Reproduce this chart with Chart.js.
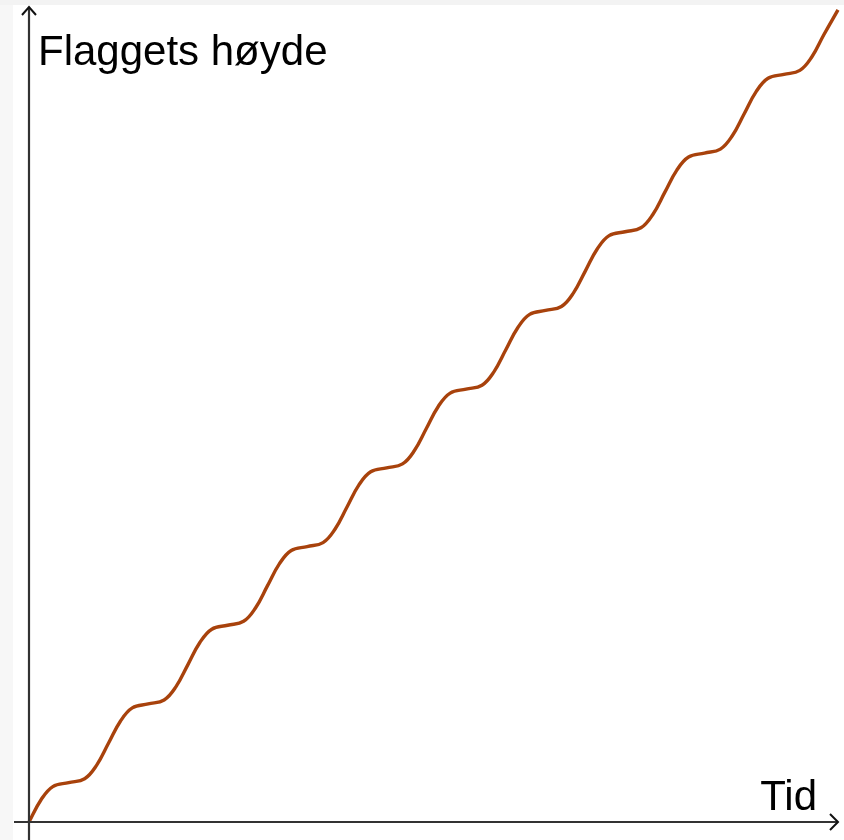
<!DOCTYPE html>
<html>
<head>
<meta charset="utf-8">
<script src="https://cdn.jsdelivr.net/npm/chart.js@4"></script>
<style>
html,body{margin:0;padding:0;background:#fff;}
canvas{display:block;}
</style>
</head>
<body>
<canvas id="c" width="844" height="840"></canvas>
<script>
const yLabel = "Flaggets høyde";
const xLabel = "Tid";
const time = [0,0.15,0.3,0.5,0.7,0.85,
  1,1.15,1.3,1.5,1.7,1.85,
  2,2.15,2.3,2.5,2.7,2.85,
  3,3.15,3.3,3.5,3.7,3.85,
  4,4.15,4.3,4.5,4.7,4.85,
  5,5.15,5.3,5.5,5.7,5.85,
  6,6.15,6.3,6.5,6.7,6.85,
  7,7.15,7.3,7.5,7.7,7.85,
  8,8.15,8.3,8.5,8.7,8.85,
  9,9.15,9.3,9.5,9.7,9.85,
  10,10.18];
const height = [0,0.28,0.45,0.5,0.55,0.72,
  1,1.28,1.45,1.5,1.55,1.72,
  2,2.28,2.45,2.5,2.55,2.72,
  3,3.28,3.45,3.5,3.55,3.72,
  4,4.28,4.45,4.5,4.55,4.72,
  5,5.28,5.45,5.5,5.55,5.72,
  6,6.28,6.45,6.5,6.55,6.72,
  7,7.28,7.45,7.5,7.55,7.72,
  8,8.28,8.45,8.5,8.55,8.72,
  9,9.28,9.45,9.5,9.55,9.72,
  10,10.32];

const axisPlugin = {
  id: 'axes',
  beforeDraw(chart) {
    const ctx = chart.ctx;
    ctx.save();
    ctx.fillStyle = '#fff';
    ctx.fillRect(0, 0, chart.width, chart.height);
    ctx.fillStyle = '#f3f3f3';
    ctx.fillRect(0, 0, chart.width, 5);
    ctx.fillStyle = '#f7f7f7';
    ctx.fillRect(0, 5, 13, chart.height - 5);
    ctx.restore();
  },
  afterDatasetsDraw(chart) {
    const ctx = chart.ctx;
    const xs = chart.scales.x, ys = chart.scales.y;
    const x0 = xs.getPixelForValue(0);
    const y0 = ys.getPixelForValue(0);
    ctx.save();
    ctx.strokeStyle = '#333';
    ctx.lineWidth = 2.2;
    ctx.beginPath();
    ctx.moveTo(x0, 840); ctx.lineTo(x0, 8);
    ctx.moveTo(14, y0); ctx.lineTo(838, y0);
    ctx.stroke();
    ctx.strokeStyle = '#111';
    ctx.lineWidth = 2;
    ctx.beginPath();
    ctx.moveTo(x0 - 7, 15); ctx.lineTo(x0, 7); ctx.lineTo(x0 + 7, 15);
    ctx.moveTo(830, y0 - 8); ctx.lineTo(838, y0); ctx.lineTo(830, y0 + 8);
    ctx.stroke();
    ctx.fillStyle = '#000';
    ctx.font = '42px "Liberation Sans", Arial, sans-serif';
    ctx.textBaseline = 'alphabetic';
    ctx.textAlign = 'left';
    ctx.fillText(yLabel, 38, 65);
    ctx.textAlign = 'right';
    ctx.fillText(xLabel, 817, 810);
    ctx.restore();
  }
};

new Chart(document.getElementById('c'), {
  type: 'line',
  data: {
    datasets: [{
      data: time.map((t, i) => ({x: t, y: height[i]})),
      borderColor: '#a8420c',
      borderWidth: 3.4,
      pointRadius: 0,
      tension: 0.4,
      fill: false,
      clip: false
    }]
  },
  options: {
    responsive: false,
    animation: false,
    layout: {padding: {left: 29, right: 6, top: 8, bottom: 18}},
    plugins: {legend: {display: false}, tooltip: {enabled: false}},
    scales: {
      x: {type: 'linear', min: 0, max: 10.18, display: false},
      y: {type: 'linear', min: 0, max: 10.343, display: false}
    }
  },
  plugins: [axisPlugin]
});
</script>
</body>
</html>
